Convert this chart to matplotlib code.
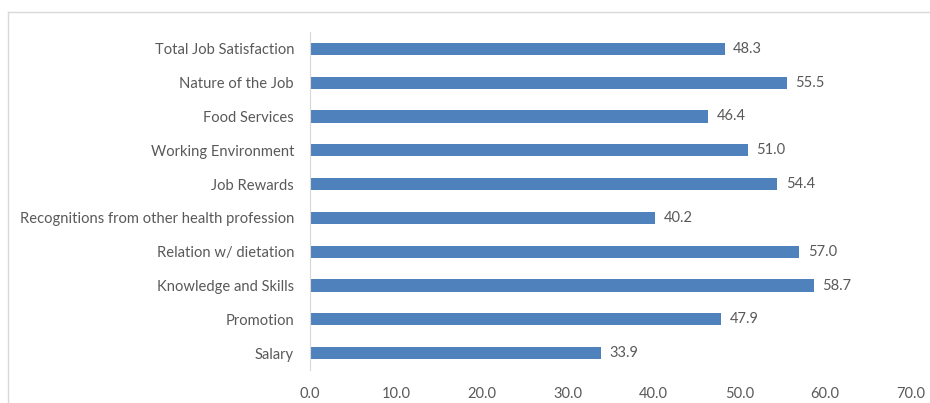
import matplotlib
matplotlib.use("Agg")
import matplotlib.pyplot as plt
from matplotlib.lines import Line2D

categories = ["Total Job Satisfaction", "Nature of the Job", "Food Services",
              "Working Environment", "Job Rewards",
              "Recognitions from other health profession",
              "Relation w/ dietation", "Knowledge and Skills", "Promotion", "Salary"]
values = [48.3, 55.5, 46.4, 51.0, 54.4, 40.2, 57.0, 58.7, 47.9, 33.9]
xticks = [0, 10, 20, 30, 40, 50, 60, 70]

plt.rcParams['font.family'] = ['Lato', 'DejaVu Sans']
txt = '#595959'

fig = plt.figure(figsize=(9.30, 4.03), dpi=100)
ax = fig.add_axes([310/930, 1-370/403, (911-310)/930, 338/403])

n = len(categories)
ypos = list(range(n))[::-1]
ax.barh(ypos, values, height=0.36, color='#4f81bd')
for y, v in zip(ypos, values):
    ax.text(v + 1.0, y, f"{v:.1f}", va='center', ha='left', fontsize=10.5, color=txt)

ax.set_xlim(0, 70)
ax.set_ylim(-0.5, n - 0.5)
ax.set_yticks(ypos)
ax.set_yticklabels(categories, fontsize=10.6, color=txt)
ax.set_xticks(xticks)
ax.set_xticklabels([f"{t:.1f}" for t in xticks], fontsize=10.5, color=txt)
ax.tick_params(axis='both', length=0)
ax.tick_params(axis='y', pad=11.5)
ax.tick_params(axis='x', pad=12)
for s in ['top', 'right', 'bottom']:
    ax.spines[s].set_visible(False)
ax.spines['left'].set_color('#d9d9d9')

fig.add_artist(Line2D([8/930, 8/930], [0, 1-12/403], color='#d9d9d9', lw=1, transform=fig.transFigure))
fig.add_artist(Line2D([8/930, 1], [1-12/403, 1-12/403], color='#d9d9d9', lw=1, transform=fig.transFigure))

fig.savefig("out.png", dpi=100)
